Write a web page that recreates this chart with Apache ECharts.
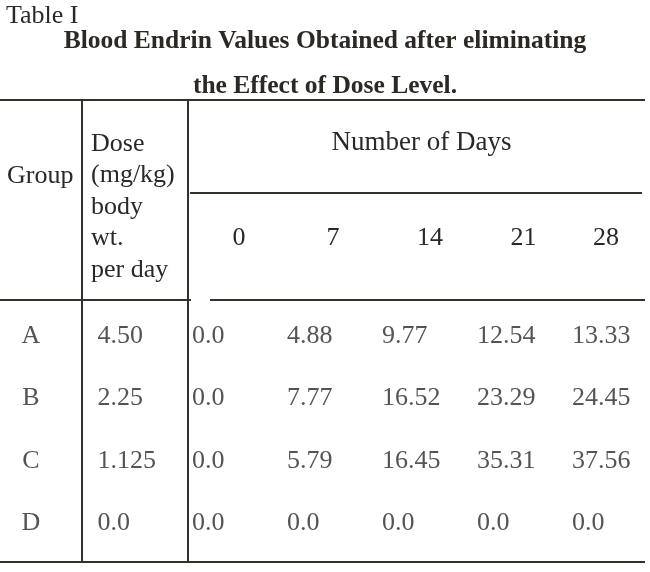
<!DOCTYPE html>
<html>
<head>
<meta charset="utf-8">
<script src="https://cdn.jsdelivr.net/npm/echarts@6/dist/echarts.min.js"></script>
<style>
html,body{margin:0;padding:0;background:#ffffff;}
#c{width:650px;height:572px;}
</style>
</head>
<body>
<div id="c"></div>
<script>
// ---- data ----
const groups = ['A', 'B', 'C', 'D'];
const doses = [4.50, 2.25, 1.125, 0.0];
const days = ['0', '7', '14', '21', '28'];
const bloodA = [0.0, 4.88, 9.77, 12.54, 13.33];
const bloodB = [0.0, 7.77, 16.52, 23.29, 24.45];
const bloodC = [0.0, 5.79, 16.45, 35.31, 37.56];
const bloodD = [0.0, 0.0, 0.0, 0.0, 0.0];
const bloodRows = [bloodA, bloodB, bloodC, bloodD];

const tableLabel = 'Table I';
const titleLine1 = 'Blood Endrin Values Obtained after eliminating';
const titleLine2 = 'the Effect of Dose Level.';
const groupHeader = 'Group';
const doseHeader = ['Dose', '(mg/kg)', 'body', 'wt.', 'per day'];
const daysHeader = 'Number of Days';

// ---- layout (left padding of each day header label, px) ----
const dayHeaderPad = [94, 92, 96, 93, 68];

// ---- style ----
const FONT = '"Liberation Serif", "Times New Roman", serif';
const INK = '#2c2824';
const RULE = '#34312d';
const FS = 26;

function fmt(v) {
  if (v === 0) return '0.0';
  const d = (String(v).split('.')[1] || '').length;
  return v.toFixed(Math.max(2, d));
}

const chart = echarts.init(document.getElementById('c'), null, {renderer: 'canvas'});

const bodyTop = 305, bodyHeight = 249.3;

const labelBase = {
  show: true,
  fontFamily: FONT,
  fontSize: FS,
  color: INK,
  verticalAlign: 'middle',
  lineHeight: FS
};

const series = [];
// Group letters
series.push({
  type: 'scatter', xAxisIndex: 0, yAxisIndex: 0,
  symbol: 'rect', symbolSize: 1, itemStyle: {color: 'transparent'},
  silent: true,
  data: groups.map(g => ['Group', g]),
  label: Object.assign({}, labelBase, {position: 'inside', align: 'center', formatter: p => p.value[1]})
});
// Doses
series.push({
  type: 'scatter', xAxisIndex: 1, yAxisIndex: 1,
  symbol: 'rect', symbolSize: 1, itemStyle: {color: 'transparent'},
  silent: true,
  data: doses.map((d, i) => [0, groups[i], d]),
  label: Object.assign({}, labelBase, {position: 'right', distance: 0, align: 'left', formatter: p => fmt(p.value[2])})
});
// Blood values by group
bloodRows.forEach((row, i) => {
  series.push({
    type: 'scatter', xAxisIndex: 2, yAxisIndex: 2,
    symbol: 'rect', symbolSize: 1, itemStyle: {color: 'transparent'},
    silent: true,
    data: row.map((v, j) => [days[j], groups[i], v]),
    label: Object.assign({}, labelBase, {position: 'inside', align: 'left', formatter: p => fmt(p.value[2])})
  });
});

function line(x1, y1, x2, y2) {
  return {type: 'line', silent: true, shape: {x1, y1, x2, y2}, style: {stroke: RULE, lineWidth: 2}};
}
function text(str, x, y, align, vAlign, extra) {
  return {
    type: 'text', silent: true, x: x, y: y,
    style: Object.assign({
      text: str, font: FS + 'px ' + FONT, fill: INK,
      align: align, textAlign: align,
      verticalAlign: vAlign, textVerticalAlign: vAlign
    }, extra || {})
  };
}

const dayLabelStyle = {fontFamily: FONT, fontSize: FS, color: INK,
                       align: 'center', verticalAlign: 'middle', lineHeight: FS};

const option = {
  backgroundColor: '#ffffff',
  animation: false,
  title: [
    {text: tableLabel, left: 6, top: 3, padding: 0,
     textStyle: {fontFamily: FONT, fontSize: FS, fontWeight: 'normal', color: INK, lineHeight: FS}},
    {text: titleLine1, left: 'center', top: 29, padding: 0,
     textStyle: {fontFamily: FONT, fontSize: 25.5, fontWeight: 'bold', color: INK, lineHeight: 25.5}},
    {text: titleLine2, left: 'center', top: 73.5, padding: 0,
     textStyle: {fontFamily: FONT, fontSize: 25.5, fontWeight: 'bold', color: INK, lineHeight: 25.5}}
  ],
  grid: [
    {left: 0, top: bodyTop, width: 62, height: bodyHeight},
    {left: 97, top: bodyTop, width: 80, height: bodyHeight},
    {left: 192, top: bodyTop, width: 380, height: bodyHeight}
  ],
  xAxis: [
    {gridIndex: 0, type: 'category', data: ['Group'], show: false},
    {gridIndex: 1, type: 'value', min: 0, max: 1, show: false},
    {gridIndex: 2, type: 'category', position: 'top', boundaryGap: false,
     data: days.map((d, j) => ({value: d,
       textStyle: Object.assign({}, dayLabelStyle, {padding: [0, 0, 0, dayHeaderPad[j]]})})),
     axisLine: {show: false}, axisTick: {show: false}, splitLine: {show: false},
     axisLabel: Object.assign({show: true, margin: 67, interval: 0, padding: [0, 0, 0, 92]}, dayLabelStyle)}
  ],
  yAxis: [
    {gridIndex: 0, type: 'category', data: groups, inverse: true, show: false},
    {gridIndex: 1, type: 'category', data: groups, inverse: true, show: false},
    {gridIndex: 2, type: 'category', data: groups, inverse: true, show: false}
  ],
  series: series,
  graphic: [
    // rules
    line(0, 100, 645, 100),
    line(190, 193, 642, 193),
    line(0, 300, 191, 300),
    line(210, 300, 645, 300),
    line(0, 562, 645, 562),
    line(82, 100, 82, 562),
    line(188, 100, 188, 562),
    // header texts
    text(groupHeader, 7, 176, 'left', 'middle'),
    text(doseHeader.join('\n'), 91, 128, 'left', 'top', {lineHeight: 31.5}),
    text(daysHeader, 421.5, 143, 'center', 'middle', {font: '27px ' + FONT})
  ]
};

chart.setOption(option);
</script>
</body>
</html>
